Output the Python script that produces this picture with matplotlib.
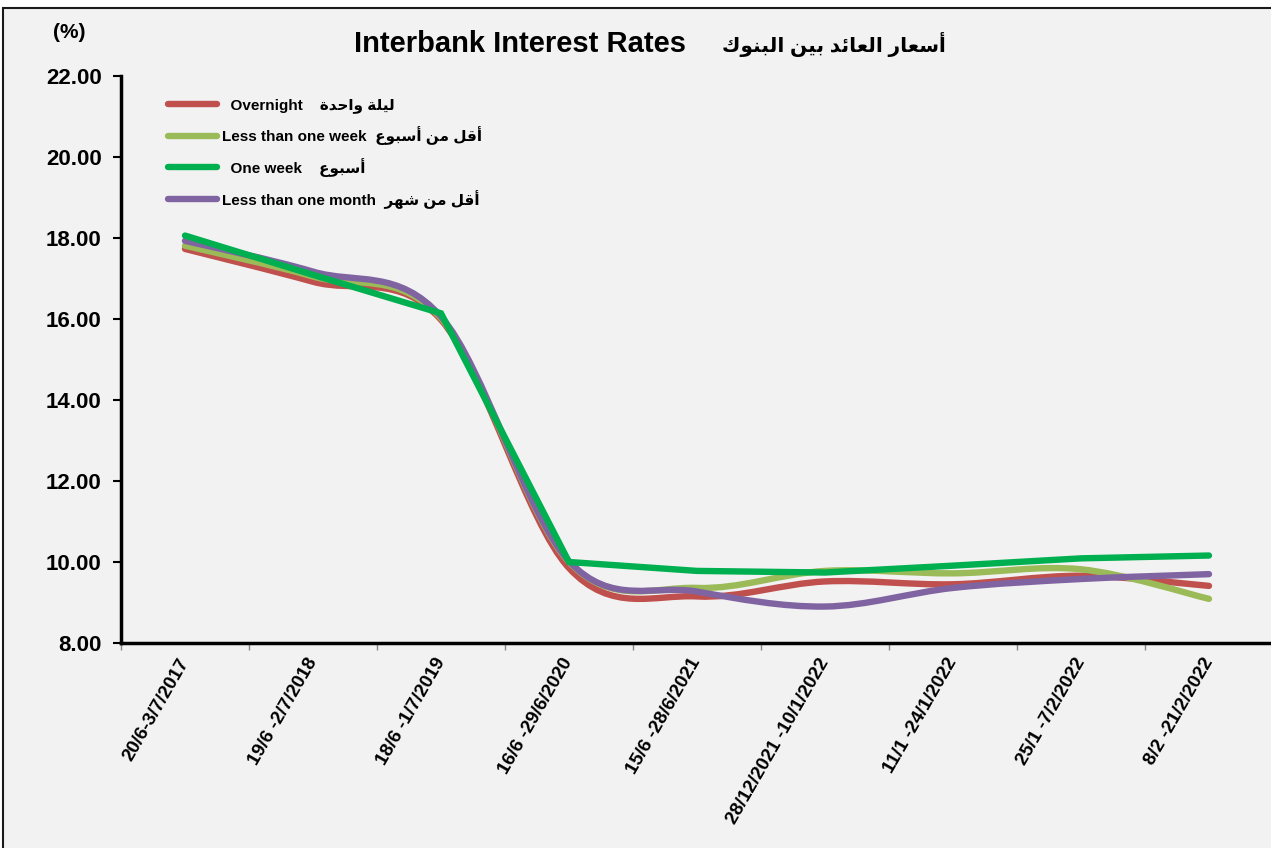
import numpy as np
import matplotlib.pyplot as plt
from matplotlib.path import Path
from matplotlib.patches import PathPatch, Rectangle
from matplotlib.lines import Line2D
from matplotlib.font_manager import FontProperties

# data
periods = ["20/6-3/7/2017", "19/6 -2/7/2018", "18/6 -1/7/2019", "16/6 -29/6/2020",
           "15/6 -28/6/2021", "28/12/2021 -10/1/2022", "11/1 -24/1/2022",
           "25/1 -7/2/2022", "8/2 -21/2/2022"]
overnight = [17.73, 16.92, 15.98, 9.85, 9.15, 9.52, 9.45, 9.66, 9.41]
less_week = [17.81, 17.05, 16.02, 10.00, 9.36, 9.78, 9.72, 9.82, 9.09]
one_week = [18.06, 17.09, 16.14, 10.00, 9.78, 9.74, 9.91, 10.09, 10.16]
less_month = [17.93, 17.17, 16.06, 10.02, 9.27, 8.90, 9.36, 9.58, 9.70]

names_en = ["  Overnight    ", "Less than one week  ", "  One week    ", "Less than one month  "]
names_ar = ["ليلة واحدة", "أقل من أسبوع", "أسبوع", "أقل من شهر"]
colors = ["#c0504d", "#9bbb59", "#00b050", "#8064a2"]
smooth = [True, True, False, True]

# arabic presentation forms: isolated, final, initial, medial
AR = {
    'ا': ('\uFE8D', '\uFE8E', None, None), 'أ': ('\uFE83', '\uFE84', None, None),
    'ب': ('\uFE8F', '\uFE90', '\uFE91', '\uFE92'), 'ة': ('\uFE93', '\uFE94', None, None),
    'ح': ('\uFEA1', '\uFEA2', '\uFEA3', '\uFEA4'), 'د': ('\uFEA9', '\uFEAA', None, None),
    'ر': ('\uFEAD', '\uFEAE', None, None), 'س': ('\uFEB1', '\uFEB2', '\uFEB3', '\uFEB4'),
    'ش': ('\uFEB5', '\uFEB6', '\uFEB7', '\uFEB8'), 'ع': ('\uFEC9', '\uFECA', '\uFECB', '\uFECC'),
    'ق': ('\uFED5', '\uFED6', '\uFED7', '\uFED8'), 'ك': ('\uFED9', '\uFEDA', '\uFEDB', '\uFEDC'),
    'ل': ('\uFEDD', '\uFEDE', '\uFEDF', '\uFEE0'), 'م': ('\uFEE1', '\uFEE2', '\uFEE3', '\uFEE4'),
    'ن': ('\uFEE5', '\uFEE6', '\uFEE7', '\uFEE8'), 'ه': ('\uFEE9', '\uFEEA', '\uFEEB', '\uFEEC'),
    'و': ('\uFEED', '\uFEEE', None, None), 'ي': ('\uFEF1', '\uFEF2', '\uFEF3', '\uFEF4'),
    'ئ': ('\uFE89', '\uFE8A', '\uFE8B', '\uFE8C'),
}

def shape_ar(text):
	out = []
	for word in text.split(' '):
		res = ''
		for i, ch in enumerate(word):
			f = AR.get(ch)
			if f is None:
				res += ch
				continue
			prev = i > 0 and AR.get(word[i-1], (0, 0, None))[2] is not None
			nxt = i < len(word)-1 and f[2] is not None and word[i+1] in AR
			res += f[3 if prev and nxt else 1 if prev else 2 if nxt else 0]
		out.append(res[::-1])
	return ' '.join(out[::-1])

def smooth_path(x, y):
	# excel style smoothed line as cubic bezier segments
	pts = list(zip(x, y))
	verts, codes = [pts[0]], [Path.MOVETO]
	n = len(pts)
	for i in range(n-1):
		p0 = np.array(pts[max(i-1, 0)])
		p1 = np.array(pts[i])
		p2 = np.array(pts[i+1])
		p3 = np.array(pts[min(i+2, n-1)])
		c1 = p1 + (p2 - p0)/6
		c2 = p2 - (p3 - p1)/6
		verts += [tuple(c1), tuple(c2), tuple(p2)]
		codes += [Path.CURVE4]*3
	return Path(verts, codes)

fams = ['Liberation Sans', 'DejaVu Sans']
lw = 4.6

fig = plt.figure(figsize=(12.71, 8.48), dpi=100, facecolor='white')
fig.add_artist(Rectangle((3/1271, -0.05), 1.2, 1.05 - 8/848, transform=fig.transFigure,
                         facecolor='#f2f2f2', edgecolor='#1a1a1a', lw=1.5, zorder=-5))

ax = fig.add_axes([121/1271, 1-643/848, 1152/1271, 567/848])
ax.set_facecolor('#f2f2f2')

x = np.arange(len(periods))
handles = []
for vals, c, sm, en, ar in zip([overnight, less_week, one_week, less_month], colors, smooth, names_en, names_ar):
	if sm:
		ax.add_patch(PathPatch(smooth_path(x, vals), fill=False, edgecolor=c, lw=lw,
		                       capstyle='round', joinstyle='round'))
	else:
		ax.plot(x, vals, color=c, lw=lw, solid_capstyle='round', solid_joinstyle='miter')
	handles.append(Line2D([], [], color=c, lw=lw, solid_capstyle='round',
	                      label=en + shape_ar(ar)))

ax.set_xlim(-0.5, len(periods)-0.5)
ax.set_ylim(8, 22)
ax.set_yticks(np.arange(8, 22.1, 2))
ax.set_yticklabels(['%.2f' % v for v in np.arange(8, 22.1, 2)], fontsize=16,
                   fontweight='bold', family=fams)
ax.tick_params(axis='y', direction='out', length=6, width=1.5, pad=8)

ax.set_xticks(x)
ax.set_xticklabels(periods, rotation=60, ha='right', va='center', rotation_mode='anchor',
                   fontsize=13.5, fontweight='bold', family=fams)
ax.tick_params(axis='x', which='major', length=0, pad=12)
ax.set_xticks(np.arange(-0.5, len(periods), 1), minor=True)
ax.tick_params(axis='x', which='minor', length=5, width=1, color='#888888', direction='out')

for s in ['top', 'right']:
	ax.spines[s].set_visible(False)
for s in ['left', 'bottom']:
	ax.spines[s].set_linewidth(2.5)
	ax.spines[s].set_color('black')

leg = ax.legend(handles=handles, loc='upper left', bbox_to_anchor=(0.041, 0.961),
                frameon=False, handlelength=3.2, handletextpad=0.3, labelspacing=0.85,
                borderpad=0, borderaxespad=0,
                prop=FontProperties(family=fams, weight='bold', size=11))

fig.text(686/1271, 1-44/848, "Interbank Interest Rates", ha='right', va='center',
         fontsize=21, fontweight='bold', family=fams)
fig.text(722/1271, 1-44/848, shape_ar("أسعار العائد بين البنوك"), ha='left', va='center',
         fontsize=14.5, fontweight='bold', family=fams)
fig.text(69/1271, 1-33/848, "(%)", ha='center', va='center', fontsize=15,
         fontweight='bold', family=fams)

fig.savefig('out.png', dpi=100, facecolor='white')
